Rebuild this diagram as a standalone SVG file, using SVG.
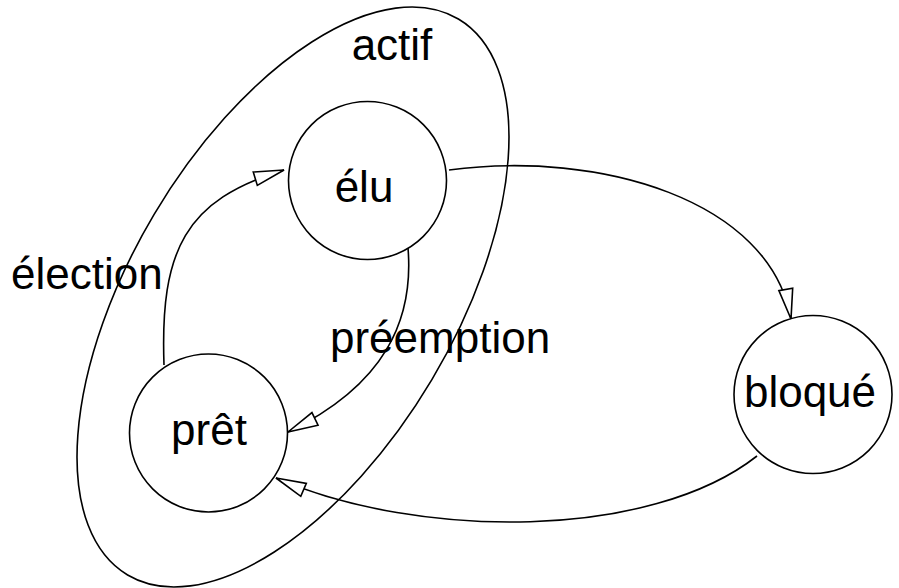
<svg xmlns="http://www.w3.org/2000/svg" width="899" height="588" viewBox="0 0 899 588">
<style>
.node{fill:none;stroke:#000;stroke-width:1.6}
.edge{fill:none;stroke:#000;stroke-width:1.6}
text{font-family:"Liberation Sans",Arial,Helvetica,sans-serif;font-size:44px;fill:#000}
</style>
<defs>
<marker id="arr" markerUnits="userSpaceOnUse" markerWidth="36" markerHeight="20" refX="32" refY="9" orient="auto" overflow="visible">
<path d="M32,9 L2,2 L2,16 Z" fill="#fff" stroke="#000" stroke-width="1.6" stroke-linejoin="miter"/>
</marker>
</defs>
<g id="actif">
<ellipse class="node" cx="293" cy="297" rx="323.5" ry="161.6" transform="rotate(-59.25 293 297)"/>
<text x="392" y="60" text-anchor="middle">actif</text>
</g>
<g id="elu">
<circle class="node" cx="367.5" cy="180.5" r="79"/>
<text x="364" y="202" text-anchor="middle">élu</text>
</g>
<g id="pret">
<circle class="node" cx="208.5" cy="433" r="79"/>
<text x="209" y="445" text-anchor="middle">prêt</text>
</g>
<g id="bloque">
<circle class="node" cx="813" cy="394.5" r="79"/>
<text x="810" y="407" text-anchor="middle">bloqué</text>
</g>
<g id="connectors">
<path class="edge" d="M164,365 C160,250 185,200 284,170" marker-end="url(#arr)"/>
<path class="edge" d="M408,248 C414,320 385,385 288,432" marker-end="url(#arr)"/>
<path class="edge" d="M449,170 C600,150 770,200 791,319" marker-end="url(#arr)"/>
<path class="edge" d="M757,456 C650,540 420,540 276,478" marker-end="url(#arr)"/>
<text x="11" y="289">élection</text>
<text x="330" y="353">préemption</text>
</g>
</svg>
